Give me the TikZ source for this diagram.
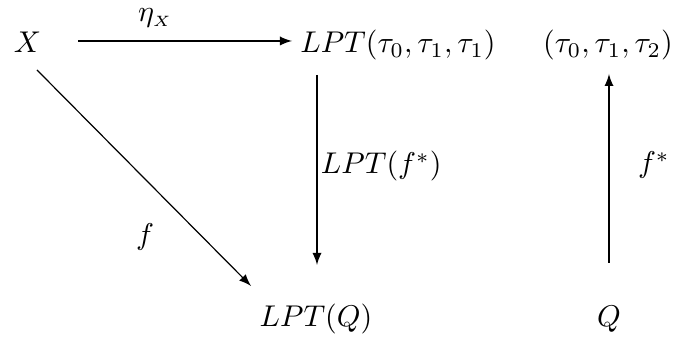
\documentclass[tikz,border=0pt]{standalone}
\usetikzlibrary{arrows}
\begin{document}
\begin{tikzpicture}[x=0.3333pt,y=-0.3333pt,>=latex,
  lbl/.style={inner sep=0pt,outer sep=0pt,anchor=base west},
  obj/.style={inner sep=0pt,outer sep=0pt,anchor=base},
  arr/.style={->,line width=0.4pt}]
\useasboundingbox (0,0) rectangle (676,338);
\node[obj] (X) at (27.5,53) {$X$};
\node[obj] (L) at (398,53) {$LPT(\tau_0,\tau_1,\tau_1)$};
\node[obj] (T) at (608,53) {$(\tau_0,\tau_1,\tau_2)$};
\node[obj] (LQ) at (316,327) {$LPT(Q)$};
\node[obj] (Q) at (609,327) {$Q$};
\node[lbl] (eta) at (138,22) {$\eta_{\scriptscriptstyle X}$};
\node[lbl] (lf) at (321,174) {$LPT(f^*)$};
\node[lbl] (fs) at (638,173) {$f^*$};
\node[lbl] (f) at (136,245) {$f$};
\coordinate (a1) at (78,41);
\coordinate (a2) at (292,41);
\coordinate (b1) at (317,75);
\coordinate (b2) at (317,265);
\coordinate (c1) at (37,70);
\coordinate (c2) at (251,286);
\coordinate (d1) at (609,263);
\coordinate (d2) at (609,74);
\draw[arr] (a1) -- (a2);
\draw[arr] (b1) -- (b2);
\draw[arr] (c1) -- (c2);
\draw[arr] (d1) -- (d2);
\end{tikzpicture}
\end{document}
